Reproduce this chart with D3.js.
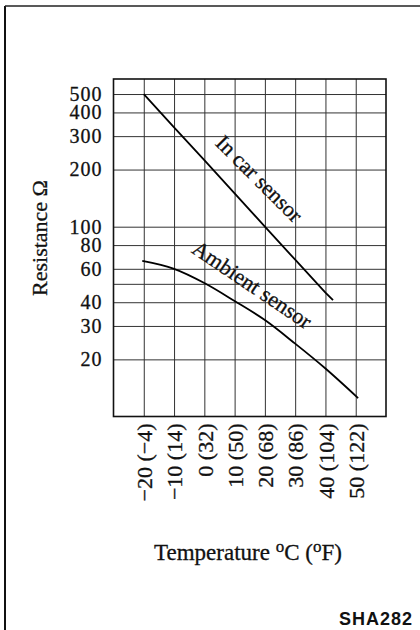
<!DOCTYPE html>
<html>
<head>
<meta charset="utf-8">
<script src="https://cdn.jsdelivr.net/npm/d3@7"></script>
<style>
  body { margin: 0; background: #fff; }
</style>
</head>
<body>
<div id="chart"></div>
<script>
// temperature in degC, resistance in ohm
var inCarTemp = [-20, -10, 0, 10, 20, 30, 40, 42.5]
var inCarRes = [500, 334, 224, 150, 100, 67, 45, 41]
var ambientTemp = [-20.5, -10, 0, 10, 20, 30, 40, 50.8]
var ambientRes = [66, 60, 50.5, 40.6, 32.2, 24.2, 17.9, 12.5]

var tempTicks = [-20, -10, 0, 10, 20, 30, 40, 50]
var tempLabels = ["\u221220 (\u22124)", "\u221210 (14)", "0 (32)", "10 (50)", "20 (68)", "30 (86)", "40 (104)", "50 (122)"]
var resGrid = [20, 30, 40, 50, 60, 80, 100, 200, 300, 400, 500]
var resTicks = [20, 30, 40, 60, 80, 100, 200, 300, 400, 500]

// curve labels, placed in data coords
var curveNames = ["In car sensor", "Ambient sensor"]
var labelTemp = [16.4, 14.4]
var labelRes = [168, 46]
var labelAngle = [45, 34]

var width = 420
var height = 630
var serif = "'Liberation Serif', 'Times New Roman', serif"

var svg = d3.select("#chart")
  .append("svg")
  .attr("width", width)
  .attr("height", height)

// page frame (left and top edges of the scanned page)
svg.append("line")
  .attr("x1", 5).attr("y1", 6).attr("x2", 5).attr("y2", height)
  .attr("stroke", "#111").attr("stroke-width", 2)
svg.append("line")
  .attr("x1", 5).attr("y1", 6).attr("x2", width).attr("y2", 6)
  .attr("stroke", "#222").attr("stroke-width", 1.5)

var x = d3.scaleLinear().domain([-30, 60]).range([113.5, 386])
var y = d3.scaleLog().domain([10, 600]).range([416.5, 79])

var plotW = x.range()[1] - x.range()[0]
var plotH = y.range()[0] - y.range()[1]

// grid
var gx = svg.append("g")
  .attr("transform", "translate(0," + y.range()[0] + ")")
  .call(d3.axisBottom(x).tickValues(tempTicks).tickSize(-plotH).tickFormat(""))
gx.select(".domain").remove()
gx.selectAll("line").attr("stroke", "#333").attr("stroke-width", 1)

var gy = svg.append("g")
  .attr("transform", "translate(" + x.range()[0] + ",0)")
  .call(d3.axisLeft(y).tickValues(resGrid).tickSize(-plotW).tickFormat(""))
gy.select(".domain").remove()
gy.selectAll("line").attr("stroke", "#333").attr("stroke-width", 1)

// plot border
svg.append("rect")
  .attr("x", x.range()[0])
  .attr("y", y.range()[1])
  .attr("width", plotW)
  .attr("height", plotH)
  .attr("fill", "none")
  .attr("stroke", "#111")
  .attr("stroke-width", 1.6)

// y tick labels
var ay = svg.append("g")
  .attr("transform", "translate(" + x.range()[0] + ",0)")
  .call(d3.axisLeft(y).tickValues(resTicks).tickSize(0).tickPadding(11).tickFormat(d3.format("d")))
ay.select(".domain").remove()
ay.attr("font-family", serif).attr("font-size", 20)
ay.selectAll("text")
  .attr("fill", "#111")
  .attr("stroke", "#111")
  .attr("stroke-width", 0.3)
  .attr("letter-spacing", 1)

// x tick labels, turned on their side
var ax = svg.append("g")
  .attr("transform", "translate(0," + y.range()[0] + ")")
  .call(d3.axisBottom(x).tickValues(tempTicks).tickSize(0).tickFormat((d, i) => tempLabels[i]))
ax.select(".domain").remove()
ax.attr("font-family", serif).attr("font-size", 22)
ax.selectAll("text")
  .attr("fill", "#111")
  .attr("stroke", "#111")
  .attr("stroke-width", 0.3)
  .attr("transform", "rotate(-90)")
  .attr("text-anchor", "end")
  .attr("x", -7)
  .attr("y", 0)
  .attr("dy", "0.35em")

// curves
var line = d3.line()
  .x(d => x(d[0]))
  .y(d => y(d[1]))

svg.append("path")
  .datum(d3.zip(inCarTemp, inCarRes))
  .attr("d", line)
  .attr("fill", "none")
  .attr("stroke", "#000")
  .attr("stroke-width", 1.8)

svg.append("path")
  .datum(d3.zip(ambientTemp, ambientRes))
  .attr("d", line.curve(d3.curveMonotoneX))
  .attr("fill", "none")
  .attr("stroke", "#000")
  .attr("stroke-width", 1.8)

// curve names
curveNames.forEach((name, i) => {
  svg.append("text")
    .attr("transform", "translate(" + x(labelTemp[i]) + "," + y(labelRes[i]) + ") rotate(" + labelAngle[i] + ")")
    .attr("text-anchor", "middle")
    .attr("font-family", serif)
    .attr("font-size", 22)
    .attr("fill", "#111")
    .attr("stroke", "#111")
    .attr("stroke-width", 0.3)
    .text(name)
})

// axis titles
svg.append("text")
  .attr("transform", "translate(47,238) rotate(-90)")
  .attr("text-anchor", "middle")
  .attr("font-family", serif)
  .attr("font-size", 22)
  .attr("fill", "#111")
  .attr("stroke", "#111")
  .attr("stroke-width", 0.3)
  .text("Resistance \u03A9")

var xt = svg.append("text")
  .attr("x", 248)
  .attr("y", 560)
  .attr("text-anchor", "middle")
  .attr("font-family", serif)
  .attr("font-size", 23)
  .attr("fill", "#111")
  .attr("stroke", "#111")
  .attr("stroke-width", 0.3)
xt.append("tspan").text("Temperature ")
xt.append("tspan").attr("font-size", 17).attr("dy", -8).text("o")
xt.append("tspan").attr("dy", 8).text("C (")
xt.append("tspan").attr("font-size", 17).attr("dy", -8).text("o")
xt.append("tspan").attr("dy", 8).text("F)")

svg.append("text")
  .attr("x", 413)
  .attr("y", 625)
  .attr("text-anchor", "end")
  .attr("font-family", "'Liberation Sans', Arial, sans-serif")
  .attr("font-size", 18)
  .attr("font-weight", "bold")
  .attr("letter-spacing", 1)
  .attr("fill", "#111")
  .text("SHA282")
</script>
</body>
</html>
